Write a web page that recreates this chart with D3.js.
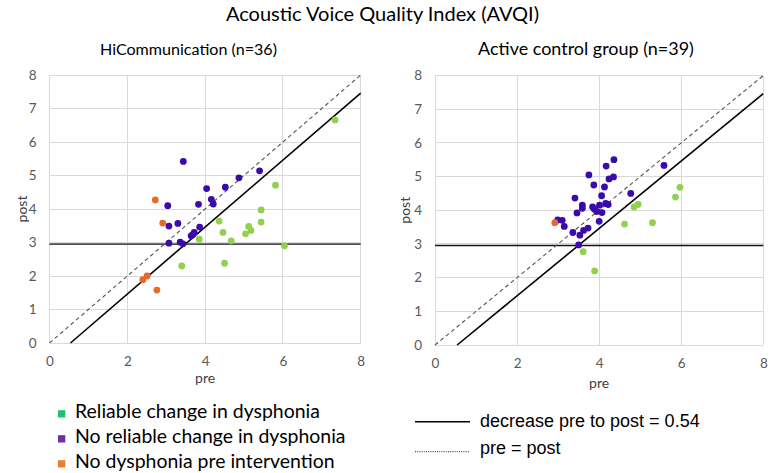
<!DOCTYPE html>
<html><head><meta charset="utf-8">
<script src="https://cdn.jsdelivr.net/npm/d3@7/dist/d3.min.js"></script>
<style>body{margin:0;background:#fff}svg{display:block}</style>
</head><body>
<svg id="chart" width="777" height="473"></svg>
<script>
// ---------- data ----------
const yTickValues = [0,1,2,3,4,5,6,7,8];
const xTickValues = [0,2,4,6,8];
const threshold = 2.95;          // dysphonia cut-off
const decrease = 0.54;           // decrease pre to post

const panelTitles = ["HiCommunication (n=36)", "Active control group (n=39)"];
const legendGroups = ["Reliable change in dysphonia", "No reliable change in dysphonia", "No dysphonia pre intervention"];
const legendLines = ["decrease pre to post = 0.54", "pre = post"];

// HiCommunication
const hiReliablePre  = [7.34,5.81,5.44,5.44,5.12,5.18,5.04,4.36,4.46,4.67,3.85,6.04,4.50,3.40];
const hiReliablePost = [6.66,4.71,3.97,3.61,3.48,3.36,3.26,3.64,3.30,3.05,3.10,2.90,2.38,2.30];
const hiNoChangePre  = [3.44,5.40,4.87,4.52,4.04,4.16,4.21,3.83,3.04,3.30,3.07,3.86,3.72,3.68,3.64,3.07,3.36,3.43];
const hiNoChangePost = [5.42,5.14,4.93,4.65,4.61,4.29,4.15,4.14,4.10,3.57,3.49,3.46,3.30,3.23,3.20,2.98,3.01,2.96];
const hiNoDysPre     = [2.72,2.91,2.51,2.40,2.76];
const hiNoDysPost    = [4.27,3.58,2.00,1.89,1.58];

// Active control group
const acReliablePre  = [5.97,5.86,4.95,4.85,4.62,5.30,3.61,3.89];
const acReliablePost = [4.68,4.39,4.17,4.10,3.59,3.63,2.77,2.20];
const acNoChangePre  = [4.36,4.17,5.58,3.75,4.35,4.24,3.87,4.13,4.77,4.06,3.41,3.59,3.59,3.84,3.88,3.94,4.01,4.16,4.22,4.07,3.46,4.00,2.99,3.10,3.15,3.36,3.73,3.62,3.53,3.50];
const acNoChangePost = [5.50,5.31,5.33,5.05,4.99,4.93,4.75,4.69,4.50,4.43,4.36,4.15,4.06,4.10,4.04,3.96,4.15,4.20,4.17,3.93,3.92,3.67,3.71,3.70,3.52,3.34,3.47,3.40,3.26,2.97];
const acNoDysPre     = [2.92];
const acNoDysPost    = [3.63];

// ---------- styling / layout ----------
const dotColors = ["#92D050", "#3A0BAA", "#E46C2A"];
const legendSquareColors = ["#1CC36B", "#7030A0", "#ED7D31"];
const SANS = "Lato, 'Open Sans', sans-serif";
const ARIAL = "'Liberation Sans', Arial, sans-serif";

const svg = d3.select("#chart");

function fit(sel, target){
  const s = parseFloat(sel.attr("font-size"));
  const w = sel.node().getComputedTextLength();
  sel.attr("font-size", (s*target/w).toFixed(2));
  return sel;
}

// Main title
svg.append("text").attr("x", 382.5).attr("y", 21).attr("text-anchor","middle")
   .attr("font-family", SANS).attr("font-size", 20).attr("fill","#000")
   .text("Acoustic Voice Quality Index (AVQI)");

const panels = [
  {title: panelTitles[0], titleX: 188.5, titleW: 177,
   xr:[49.5,360.7], yr:[343,75], hColor:"#4d4d4d", hWidth:1.8,
   postX: 21.7, preY: 383,
   groups:[[hiReliablePre,hiReliablePost],[hiNoChangePre,hiNoChangePost],[hiNoDysPre,hiNoDysPost]]},
  {title: panelTitles[1], titleX: 586, titleW: 216,
   xr:[435,763.3], yr:[345,75.5], hColor:"#111", hWidth:1.5,
   postX: 405, preY: 387.5,
   groups:[[acReliablePre,acReliablePost],[acNoChangePre,acNoChangePost],[acNoDysPre,acNoDysPost]]}
];

panels.forEach(p => {
  const x = d3.scaleLinear().domain([0,8]).range(p.xr);
  const y = d3.scaleLinear().domain([0,8]).range(p.yr);
  const g = svg.append("g");

  // subtitle
  fit(g.append("text").attr("x", p.titleX).attr("y", 55).attr("text-anchor","middle")
     .attr("font-family", SANS).attr("font-size", 17).attr("fill","#000").text(p.title), p.titleW);

  // gridlines
  g.append("g").selectAll("line").data(yTickValues).join("line")
    .attr("x1", x(0)).attr("x2", x(8)).attr("y1", d=>y(d)).attr("y2", d=>y(d))
    .attr("stroke","#d9d9d9").attr("stroke-width",1).attr("shape-rendering","crispEdges");
  g.append("g").selectAll("line").data(xTickValues).join("line")
    .attr("y1", y(0)).attr("y2", y(8)).attr("x1", d=>x(d)).attr("x2", d=>x(d))
    .attr("stroke","#d9d9d9").attr("stroke-width",1).attr("shape-rendering","crispEdges");

  // axes (labels only)
  const ya = g.append("g").attr("transform", `translate(${x(0)},0)`)
    .call(d3.axisLeft(y).tickValues(yTickValues).tickSize(0).tickPadding(13).tickFormat(d3.format("d")));
  const xa = g.append("g").attr("transform", `translate(0,${y(0)})`)
    .call(d3.axisBottom(x).tickValues(xTickValues).tickSize(0).tickPadding(13).tickFormat(d3.format("d")));
  [ya, xa].forEach(a => {
    a.select(".domain").remove();
    a.selectAll("text").attr("font-family", SANS).attr("font-size", 13.5).attr("fill","#595959");
  });

  // axis titles
  g.append("text").attr("transform", `translate(${p.postX},${(y(0)+y(8))/2}) rotate(-90)`)
    .attr("text-anchor","middle").attr("dy","0.35em")
    .attr("font-family", SANS).attr("font-size", 14).attr("fill","#404040").text("post");
  g.append("text").attr("x", (x(0)+x(8))/2).attr("y", p.preY).attr("text-anchor","middle")
    .attr("font-family", SANS).attr("font-size", 14).attr("fill","#404040").text("pre");

  // threshold line
  g.append("line").attr("x1", x(0)).attr("x2", x(8)).attr("y1", y(threshold)).attr("y2", y(threshold))
    .attr("stroke", p.hColor).attr("stroke-width", p.hWidth);

  // pre = post line
  g.append("line").attr("x1", x(0)).attr("y1", y(0)).attr("x2", x(8)).attr("y2", y(8))
    .attr("stroke","#555").attr("stroke-width",1.1).attr("stroke-dasharray","4,3");

  // decrease line
  g.append("line").attr("x1", x(decrease)).attr("y1", y(0)).attr("x2", x(8)).attr("y2", y(8-decrease))
    .attr("stroke","#000").attr("stroke-width",1.6);

  // points
  p.groups.forEach((grp, i) => {
    const pts = grp[0].map((v, k) => [v, grp[1][k]]);
    g.append("g").selectAll("circle").data(pts).join("circle")
      .attr("cx", d=>x(d[0])).attr("cy", d=>y(d[1])).attr("r", 3.4)
      .attr("fill", dotColors[i]);
  });
});

// Left legend
const legL = svg.append("g");
legendGroups.forEach((t, i) => {
  const by = 417.5 + i*25;
  legL.append("rect").attr("x", 58).attr("y", by-7.3).attr("width", 7.3).attr("height", 7.3)
    .attr("fill", legendSquareColors[i]);
  const tx = legL.append("text").attr("x", 75).attr("y", by)
    .attr("font-family", SANS).attr("font-size", 20).attr("fill","#000").text(t);
  if (i === 0) fit(tx, 245);
});
const fsL = legL.select("text").attr("font-size");
legL.selectAll("text").attr("font-size", fsL);

// Right legend
const legR = svg.append("g");
legR.append("line").attr("x1", 415).attr("x2", 470).attr("y1", 421.7).attr("y2", 421.7)
  .attr("stroke","#000").attr("stroke-width",1.4);
legR.append("line").attr("x1", 415).attr("x2", 470).attr("y1", 451.7).attr("y2", 451.7)
  .attr("stroke","#222").attr("stroke-width",1).attr("stroke-dasharray","1,1.2");
legR.append("text").attr("x", 480).attr("y", 427).attr("font-family", ARIAL).attr("font-size", 18)
  .attr("fill","#000").text(legendLines[0]);
legR.append("text").attr("x", 480).attr("y", 453.5).attr("font-family", ARIAL).attr("font-size", 18)
  .attr("fill","#000").text(legendLines[1]);
</script>
</body></html>
